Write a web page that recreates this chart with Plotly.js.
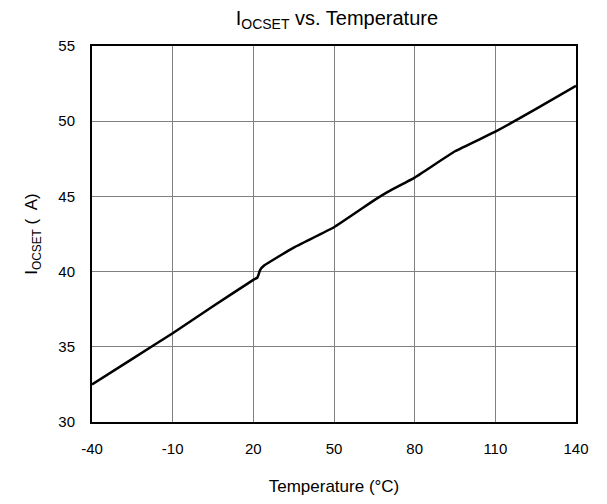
<!DOCTYPE html>
<html><head><meta charset="utf-8">
<script src="https://cdn.plot.ly/plotly-3.0.1.min.js"></script>
<style>body{margin:0;background:#fff}#c{width:607px;height:504px}</style>
</head><body><div id="c"></div>
<script>
const temperature = [-40, -25, -10, 5, 20, 21.5, 22.5, 24, 35, 50, 65, 70, 80, 95, 110, 125, 140];
const iocset = [32.5, 34.2, 35.9, 37.7, 39.45, 39.6, 40.1, 40.4, 41.6, 42.95, 44.75, 45.3, 46.25, 48.0, 49.3, 50.8, 52.35];
const xTicks = [-40, -10, 20, 50, 80, 110, 140];
const yTicks = [30, 35, 40, 45, 50, 55];

Plotly.newPlot('c', [{
  x: temperature, y: iocset, type: 'scatter', mode: 'lines',
  line: {color: '#000', width: 2.5, shape: 'spline', smoothing: 0.3}
}], {
  width: 607, height: 504,
  margin: {l: 92, r: 31, t: 46, b: 82},
  paper_bgcolor: '#fff', plot_bgcolor: '#fff',
  font: {family: 'Liberation Sans, Arial, sans-serif', size: 15, color: '#000'},
  title: {text: 'I<sub>OCSET</sub> vs. Temperature', font: {size: 20}, x: 0.555, xanchor: 'center', y: 0.978, yanchor: 'top'},
  xaxis: {
    range: [-40, 140], tickvals: xTicks, ticktext: xTicks.map(String),
    showgrid: true, gridcolor: '#808080', gridwidth: 1,
    showline: true, linecolor: '#000', linewidth: 2, mirror: true,
    ticks: '', zeroline: false, tickfont: {size: 15}, ticklabelstandoff: 12,
    title: {text: 'Temperature (°C)', font: {size: 17}, standoff: 24}
  },
  yaxis: {
    range: [30, 55], tickvals: yTicks, ticktext: yTicks.map(String),
    showgrid: true, gridcolor: '#808080', gridwidth: 1,
    showline: true, linecolor: '#000', linewidth: 2, mirror: true,
    ticks: '', zeroline: false, tickfont: {size: 15}, ticklabelstandoff: 12,
    title: {text: 'I<sub>OCSET</sub> (  A)', font: {size: 17}, standoff: 16}
  },
  showlegend: false
}, {displayModeBar: false, staticPlot: true});
</script></body></html>
